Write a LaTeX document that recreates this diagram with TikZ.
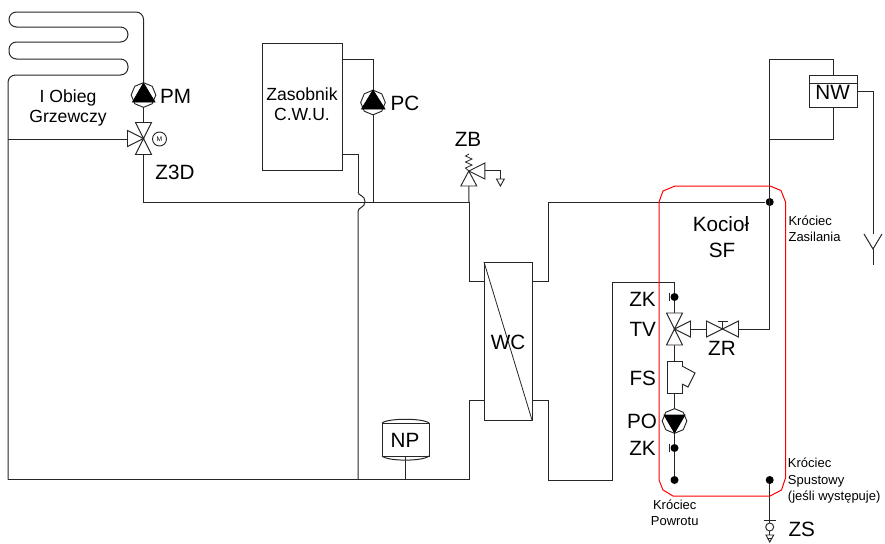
\documentclass[tikz,border=0pt]{standalone}
\usepackage{fontspec}
\setmainfont{Liberation Sans}
\usetikzlibrary{shapes.geometric}
\definecolor{pipec}{HTML}{262626}
\tikzset{
  pipe/.style={draw=pipec,line width=0.75pt,line join=miter},
  sym/.style={draw=pipec,line width=0.7pt,line join=miter,fill=white},
  solid tri/.style={draw=black,line width=0.5pt,fill=black},
  box/.style={rectangle,draw=pipec,line width=0.75pt,fill=white,inner sep=0pt,outer sep=0pt},
  pumpbody/.style={regular polygon,regular polygon sides=8,shape border rotate=22.5,draw=pipec,line width=0.7pt,fill=white,minimum size=18.5pt,inner sep=0pt,outer sep=0pt},
  jointdot/.style={circle,fill=black,inner sep=0pt,minimum size=6pt},
  lab/.style={font=\fontsize{15.5}{18}\selectfont,anchor=base,inner sep=0pt,text=black},
  midlab/.style={font=\fontsize{13.2}{16}\selectfont,anchor=base,inner sep=0pt,text=black},
  smalllab/.style={font=\fontsize{9.75}{12}\selectfont,anchor=base,inner sep=0pt,text=black},
  smallleft/.style={smalllab,anchor=base west},
  redline/.style={draw=red,line width=0.75pt,line join=round},
}
\newcommand{\triU}[1]{\path[sym] (#1) -- ++(-8,-16) -- ++(16,0) -- cycle;}
\newcommand{\triD}[1]{\path[sym] (#1) -- ++(-8,16) -- ++(16,0) -- cycle;}
\newcommand{\triL}[1]{\path[sym] (#1) -- ++(-16,-8) -- ++(0,16) -- cycle;}
\newcommand{\triR}[1]{\path[sym] (#1) -- ++(16,-8) -- ++(0,16) -- cycle;}
\begin{document}
\begin{tikzpicture}[x=0.75pt,y=-0.75pt]
\useasboundingbox (0,0) rectangle (885,543);
% --- equipment
\node[box,minimum width=60pt,minimum height=95.25pt] (zas) at (302,106.5) {};
\node[box,minimum width=36pt,minimum height=118.5pt] (wc) at (508,341) {};
\node[box,minimum width=36pt,minimum height=24pt] (nw) at (833,91) {};
\node[box,minimum width=35.25pt,minimum height=24.75pt] (np) at (405.5,439.5) {};
\node[box,minimum width=11.25pt,minimum height=24pt] (fs) at (674.5,377) {};
\node[pumpbody] (pm) at (143.5,95) {};
\node[pumpbody] (pc) at (373,102.5) {};
\node[pumpbody] (po) at (674.5,421) {};
\node[jointdot] (zk1) at (674.5,297) {};
\node[jointdot] (zk2) at (674.5,448) {};
\node[jointdot] (krp) at (674.5,480) {};
\node[jointdot] (krz) at (769.7,202) {};
\node[jointdot] (krs) at (769.7,480) {};
\node[circle,draw=pipec,line width=0.7pt,fill=white,minimum size=10.5pt,inner sep=0pt] (mot) at (159.5,139) {};
\node[circle,draw=pipec,line width=0.7pt,fill=white,minimum size=6pt,inner sep=0pt] (zs) at (769.7,527) {};
% --- valve centres and ports
\coordinate (z3d) at (143.5,138.5);
\coordinate (z3dT) at (143.5,122.5);
\coordinate (z3dB) at (143.5,154.5);
\coordinate (z3dL) at (127.5,138.5);
\coordinate (tv) at (674.5,329);
\coordinate (tvT) at (674.5,313);
\coordinate (tvB) at (674.5,345);
\coordinate (tvR) at (690.5,329);
\coordinate (zr) at (722.5,329);
\coordinate (zrL) at (706.5,329);
\coordinate (zrR) at (738.5,329);
\coordinate (zb) at (468.8,171);
\coordinate (zbB) at (468.8,186);
\coordinate (zbR) at (484.8,170.5);
\coordinate (drain) at (500.4,179);
\coordinate (mainL) at (8,479.5);
\coordinate (teeL) at (8,139);
\coordinate (coilTop) at (143.5,12);
\coordinate (hw) at (143.5,202);
\coordinate (wcTL) at (469,281);
\coordinate (wcBL) at (469,400.7);
\coordinate (wcTR) at (548,281);
\coordinate (wcBR) at (548,400.7);
\coordinate (retC) at (612,480);
\coordinate (retT) at (612,282);
\coordinate (jumpTop) at (358,192);
\coordinate (jumpBot) at (358,211.5);
\coordinate (junc) at (373,202);
\coordinate (juncB) at (469,202);
\coordinate (mainC) at (358,479.5);
\coordinate (mainR) at (469,479.5);
\coordinate (fun) at (873,249);
% --- heating coil and main pipes
\draw[pipe,rounded corners=5.6pt] (pm.north) -- (coilTop) -- (9,12) -- (9,27) -- (128,27) -- (128,42) -- (9,42) -- (9,59) -- (128,59) -- (128,75) -- (8,75) -- (mainL);
\draw[pipe] (teeL) -- (z3dL |- teeL);
\draw[pipe] (pm.south) -- (z3dT);
\draw[pipe] (z3dB) -- (hw) -- (juncB);
\draw[pipe] (juncB) -- (zbB);
\draw[pipe] (zas.east |- 0,59) -- (373,59) -- (pc.north);
\draw[pipe] (pc.south) -- (junc);
\draw[pipe] (zas.east |- 0,154) -- (358,154) -- (jumpTop);
\draw[pipe] (jumpTop) .. controls (358,196) and (365,195) .. (365,201.5) .. controls (365,208) and (358,207) .. (jumpBot) -- (mainC);
\draw[pipe] (mainL) -- (mainR) -- (wcBL) -- (wc.west |- wcBL);
\draw[pipe] (juncB) -- (wcTL) -- (wc.west |- wcTL);
\draw[pipe] (wc.east |- wcTR) -- (wcTR) -- (krz -| wcTR) -- (krz);
\draw[pipe] (wc.east |- wcBR) -- (wcBR) -- (548,480) -- (retC) -- (retT) -- (674.5,282) -- (zk1);
\draw[pipe] (np.south) -- (np.south |- mainL);
% --- boiler internals
\draw[pipe] (zk1) -- (tvT);
\draw[pipe] (tvB) -- (fs.north);
\draw[pipe] (fs.south) -- (po.north);
\draw[pipe] (po.south) -- (zk2) -- (krp);
\draw[pipe] (tvR) -- (zrL);
\draw[pipe] (zrR) -- (769.7,329) -- (769.7,59) -- (833,59) -- (nw.north);
\draw[pipe] (nw.south) -- (833,139) -- (769.7,139);
\draw[pipe] (nw.east) -- (873,91) -- (873,233.5);
\draw[pipe] (fun) -- (873,265);
\draw[pipe] (864,234) -- (fun) -- (882,234);
\draw[pipe] (krs) -- (769.7,520);
\draw[pipe] (769.7,520) -- (zs.north);
\draw[pipe] (763.5,520) -- (776,520);
% --- valves
\triU{z3d} \triD{z3d} \triL{z3d}
\triU{tv} \triD{tv} \triR{tv}
\triL{zr} \triR{zr}
\draw[pipe,line width=0.6pt] (zr) -- (722.5,321.5) (717.5,321.5) -- (727.5,321.5);
\path[sym] (zb) -- (zbB -| 460.8,0) -- (476.8,186) -- cycle;
\triR{zb}
\draw[pipe,line width=0.6pt] (zb) -- (465.5,168) -- (472,165) -- (465.5,162) -- (472,159) -- (465.5,156) -- (469,154);
\draw[pipe] (zbR) -- (500.4,170.5) -- (drain);
\path[sym] (496.5,179) -- (504.3,179) -- (500.4,186) -- cycle;
\path[sym] (766,535) -- (773.7,535) -- (769.7,542) -- cycle;
\draw[pipe] (zs.south) -- (769.7,535);
\draw[pipe,line width=0.6pt] (767.7,538) -- (771.7,538);
% --- pumps
\path[solid tri] (143.5,83) -- (155,102) -- (132.5,102) -- cycle;
\path[solid tri] (373,90) -- (385,109) -- (361.5,109) -- cycle;
\path[solid tri] (674.5,433) -- (685,415) -- (664,415) -- cycle;
% --- details on equipment
\node[font=\fontsize{5}{6}\selectfont,inner sep=0pt] (motM) at (mot) {M};
\draw[pipe] (nw.north west) ++(0,8) -- ++(48,0);
\draw[pipe,line width=0.6pt] (wc.north west) -- (wc.south east);
\draw[sym] (682,366) -- (695,373) -- (688,387) -- (682,384);
\draw[pipe] (np.north west) .. controls (388,418) and (423,418) .. (np.north east);
\draw[pipe] (np.south west) .. controls (388,461.5) and (423,461.5) .. (np.south east);
\draw[pipe] (669,293) -- (669,301) (669,297) -- (zk1);
\draw[pipe] (669,444) -- (669,452) (669,448) -- (zk2);
% --- boiler outline
\draw[redline] (659,202) -- (663,191) -- (675,186) -- (770,186) -- (781,190.5) -- (785.5,202) -- (785.5,478) -- (781.5,490) -- (770,496) -- (673,496) -- (663,490) -- (659,480) -- cycle;
% --- labels
\node[lab] (tPM) at (175.5,103) {PM};
\node[lab] (tZ3D) at (175,179) {Z3D};
\node[lab] (tPC) at (405,110.7) {PC};
\node[lab] (tZB) at (468,146.7) {ZB};
\node[lab] (tWC) at (508,349) {WC};
\node[lab] (tNP) at (405,447) {NP};
\node[lab] (tNW) at (832.7,99) {NW};
\node[lab] (tKoc) at (721,231.7) {Kocioł};
\node[lab] (tSF) at (722,257.7) {SF};
\node[lab] (tZK1) at (642.5,306) {ZK};
\node[lab] (tTV) at (642.7,336.7) {TV};
\node[lab] (tFS) at (642.7,385) {FS};
\node[lab] (tPO) at (642,428) {PO};
\node[lab] (tZK2) at (642.5,455.7) {ZK};
\node[lab] (tZR) at (722,355.7) {ZR};
\node[lab] (tZS) at (801.7,536) {ZS};
\node[midlab] (tOb1) at (68,102) {I Obieg};
\node[midlab] (tOb2) at (68,122.7) {Grzewczy};
\node[midlab] (tZa1) at (302,100) {Zasobnik};
\node[midlab] (tZa2) at (302,120.7) {C.W.U.};
\node[smalllab] (tP1) at (674.7,509) {Króciec};
\node[smalllab] (tP2) at (674.7,525.7) {Powrotu};
\node[smallleft] (tS1) at (787.7,467.7) {Króciec};
\node[smallleft] (tS2) at (787.7,484) {Spustowy};
\node[smallleft] (tS3) at (787.7,500) {(jeśli występuje)};
\node[smallleft] (tZ1) at (788.3,225) {Króciec};
\node[smallleft] (tZ2) at (788.3,241) {Zasilania};
\end{tikzpicture}
\end{document}
